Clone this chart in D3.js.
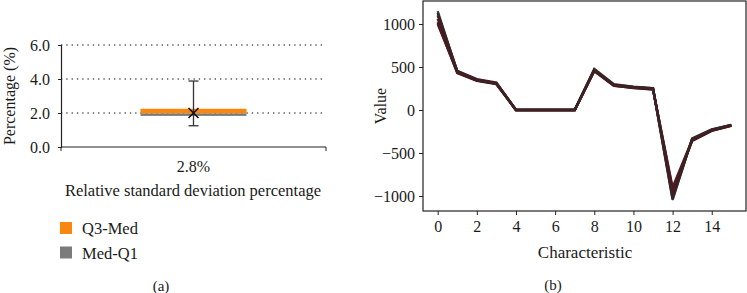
<!DOCTYPE html>
<html>
<head>
<meta charset="utf-8">
<script src="https://cdn.jsdelivr.net/npm/d3@7"></script>
<style>
  body { margin: 0; background: #fff; }
</style>
</head>
<body>
<div id="chart"></div>
<script>
// Panel (a): box summary of RSD percentage; panel (b): characteristic profiles

const width = 747, height = 293;
const serif = "'Liberation Serif', 'Times New Roman', serif";

// panel (a) data
const boxCategories = ["2.8%"];
const boxQ1 = [1.83];
const boxMedian = [1.98];
const boxQ3 = [2.25];
const boxMin = [1.25];
const boxMax = [3.88];
const boxMean = [2.0];
const yTicksA = [0, 2, 4, 6];
const legendLabels = ["Q3-Med", "Med-Q1"];
const legendColors = ["#f7870f", "#7b7b7b"];

// panel (b) data: several overlapping profiles
const characteristics = d3.range(16);
const profiles = [
  [1150, 445, 352, 312, 0, 0, 0, 0, 478, 300, 272, 255, -1045, -330, -225, -172],
  [1100, 455, 358, 318, 0, 0, 0, 0, 470, 295, 268, 250, -1000, -340, -232, -176],
  [1060, 440, 346, 306, 0, 0, 0, 0, 462, 288, 262, 246, -960, -352, -238, -180],
  [1020, 430, 340, 300, 0, 0, 0, 0, 455, 282, 258, 242, -920, -360, -242, -184],
  [1000, 438, 344, 303, 0, 0, 0, 0, 450, 285, 255, 238, -900, -345, -236, -178],
  [1130, 450, 350, 310, 0, 0, 0, 0, 466, 292, 265, 248, -1030, -335, -228, -174]
];
const profileColors = ["#2f4f4a", "#4a1c22", "#5a1f26", "#3e171c", "#4f1b21", "#3b2224"];
const yTicksB = [-1000, -500, 0, 500, 1000];
const xTicksB = [0, 2, 4, 6, 8, 10, 12, 14];

const svg = d3.select("#chart")
  .append("svg")
  .attr("width", width)
  .attr("height", height)
  .style("font-family", serif);

function styleAxis(g, size) {
  g.attr("font-family", null);
  g.selectAll("text")
    .style("font-family", serif)
    .style("font-size", size + "px")
    .attr("fill", "#1a1a1a");
  g.selectAll(".tick line").attr("stroke", "#222");
}

// ---------- panel (a) ----------
const a = { left: 61, right: 326, top: 45, bottom: 147 };

const xa = d3.scaleBand()
  .domain(boxCategories)
  .range([a.left, a.right])
  .paddingInner(0.6)
  .paddingOuter(0.3);

const ya = d3.scaleLinear()
  .domain([0, 6])
  .range([a.bottom, a.top]);

// dotted gridlines
svg.append("g")
  .selectAll("line")
  .data(yTicksA.filter(d => d > 0))
  .join("line")
  .attr("x1", a.left)
  .attr("x2", a.right)
  .attr("y1", d => ya(d))
  .attr("y2", d => ya(d))
  .attr("stroke", "#555")
  .attr("stroke-width", 1.3)
  .attr("stroke-dasharray", "1.3,4");

// y axis
const yAxisA = svg.append("g")
  .attr("transform", `translate(${a.left},0)`)
  .call(d3.axisLeft(ya).tickValues(yTicksA).tickFormat(d3.format(".1f")).tickSize(3).tickPadding(8));
yAxisA.select(".domain").attr("stroke", "#222").attr("stroke-width", 1.2);
styleAxis(yAxisA, 16);

// x axis line with end ticks
const xAxisA = svg.append("g")
  .attr("transform", `translate(0,${a.bottom})`);
xAxisA.append("line")
  .attr("x1", a.left).attr("x2", a.right)
  .attr("stroke", "#222").attr("stroke-width", 1.2);
xAxisA.selectAll(".endtick")
  .data([a.left, a.right])
  .join("line")
  .attr("x1", d => d).attr("x2", d => d)
  .attr("y1", 0).attr("y2", 4)
  .attr("stroke", "#222");
xAxisA.selectAll(".cat")
  .data(boxCategories)
  .join("text")
  .attr("x", d => xa(d) + xa.bandwidth() / 2)
  .attr("y", 25)
  .attr("text-anchor", "middle")
  .attr("fill", "#1a1a1a")
  .style("font-size", "16px")
  .text(d => d);

// stacked box: Med-Q1 (grey) under Q3-Med (orange)
const boxes = svg.append("g");
boxCategories.forEach((c, i) => {
  boxes.append("rect")
    .attr("x", xa(c))
    .attr("width", xa.bandwidth())
    .attr("y", ya(boxMedian[i]))
    .attr("height", ya(boxQ1[i]) - ya(boxMedian[i]))
    .attr("fill", legendColors[1]);
  boxes.append("rect")
    .attr("x", xa(c))
    .attr("width", xa.bandwidth())
    .attr("y", ya(boxQ3[i]))
    .attr("height", ya(boxMedian[i]) - ya(boxQ3[i]))
    .attr("fill", legendColors[0]);

  const cx = xa(c) + xa.bandwidth() / 2;
  // whiskers
  boxes.append("line")
    .attr("x1", cx).attr("x2", cx)
    .attr("y1", ya(boxMin[i])).attr("y2", ya(boxMax[i]))
    .attr("stroke", "#333").attr("stroke-width", 1.3);
  [boxMin[i], boxMax[i]].forEach(v => {
    boxes.append("line")
      .attr("x1", cx - 5).attr("x2", cx + 5)
      .attr("y1", ya(v)).attr("y2", ya(v))
      .attr("stroke", "#333").attr("stroke-width", 1.3);
  });
  // mean marker
  const my = ya(boxMean[i]);
  boxes.append("path")
    .attr("d", `M${cx - 5},${my - 5}L${cx + 5},${my + 5}M${cx - 5},${my + 5}L${cx + 5},${my - 5}`)
    .attr("stroke", "#111").attr("stroke-width", 1.6);
});

// axis titles
svg.append("text")
  .attr("transform", `translate(15,${(a.top + a.bottom) / 2}) rotate(-90)`)
  .attr("text-anchor", "middle")
  .attr("fill", "#1a1a1a")
  .style("font-size", "16px")
  .text("Percentage (%)");

svg.append("text")
  .attr("x", 193)
  .attr("y", 196)
  .attr("text-anchor", "middle")
  .attr("fill", "#1a1a1a")
  .style("font-size", "16.5px")
  .text("Relative standard deviation percentage");

// legend
const legend = svg.append("g");
legendLabels.forEach((lab, i) => {
  legend.append("rect")
    .attr("x", 60).attr("y", 222 + i * 24.5)
    .attr("width", 12).attr("height", 12)
    .attr("fill", legendColors[i]);
  legend.append("text")
    .attr("x", 82).attr("y", 234 + i * 24.5)
    .attr("fill", "#1a1a1a")
    .style("font-size", "16.5px")
    .text(lab);
});

svg.append("text")
  .attr("x", 161).attr("y", 291)
  .attr("text-anchor", "middle")
  .attr("fill", "#1a1a1a")
  .style("font-size", "15px")
  .text("(a)");

// ---------- panel (b) ----------
const b = { left: 423, right: 746, top: 1, bottom: 211 };

const xb = d3.scaleLinear()
  .domain([-0.75, 15.75])
  .range([b.left, b.right]);

const yb = d3.scaleLinear()
  .domain([-1174, 1267])
  .range([b.bottom, b.top]);

const line = d3.line()
  .x((d, i) => xb(characteristics[i]))
  .y(d => yb(d));

svg.append("g")
  .selectAll("path")
  .data(profiles)
  .join("path")
  .attr("d", line)
  .attr("fill", "none")
  .attr("stroke", (d, i) => profileColors[i])
  .attr("stroke-width", 2.4)
  .attr("stroke-linejoin", "miter");

// frame
svg.append("rect")
  .attr("x", b.left).attr("y", b.top)
  .attr("width", b.right - b.left).attr("height", b.bottom - b.top)
  .attr("fill", "none")
  .attr("stroke", "#222")
  .attr("stroke-width", 1.2);

const yAxisB = svg.append("g")
  .attr("transform", `translate(${b.left},0)`)
  .call(d3.axisLeft(yb).tickValues(yTicksB).tickFormat(d => d < 0 ? "\u2212" + Math.abs(d) : d).tickSize(4).tickPadding(4));
yAxisB.select(".domain").remove();
styleAxis(yAxisB, 16);

const xAxisB = svg.append("g")
  .attr("transform", `translate(0,${b.bottom})`)
  .call(d3.axisBottom(xb).tickValues(xTicksB).tickSize(4).tickPadding(6));
xAxisB.select(".domain").remove();
styleAxis(xAxisB, 16);

svg.append("text")
  .attr("transform", `translate(386,${(b.top + b.bottom) / 2}) rotate(-90)`)
  .attr("text-anchor", "middle")
  .attr("fill", "#1a1a1a")
  .style("font-size", "16px")
  .text("Value");

svg.append("text")
  .attr("x", 585).attr("y", 258)
  .attr("text-anchor", "middle")
  .attr("fill", "#1a1a1a")
  .style("font-size", "17px")
  .text("Characteristic");

svg.append("text")
  .attr("x", 553).attr("y", 290)
  .attr("text-anchor", "middle")
  .attr("fill", "#1a1a1a")
  .style("font-size", "15px")
  .text("(b)");
</script>
</body>
</html>
